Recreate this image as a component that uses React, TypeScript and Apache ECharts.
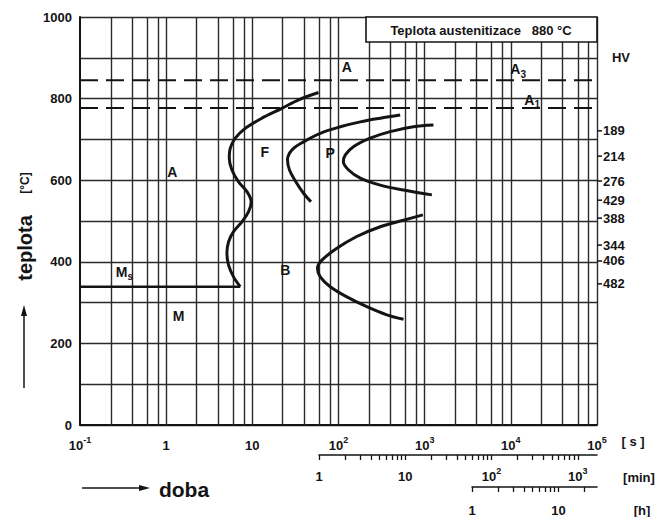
import React, { useEffect, useRef } from 'react';
import * as echarts from 'echarts';

// ---------- data ----------
const xDecades = [0.1, 1, 10, 100, 1000, 10000, 100000];
const minorGridMultipliers = [2.25, 4, 6, 8];
const yLabelValues = [0, 200, 400, 600, 800, 1000];

const msTemp = 339;
const msEndTime = 7.24;

const ferriteStart = [
  [58.6, 815], [34.4, 797], [22.0, 776], [12.9, 752], [8.27, 727], [6.34, 703],
  [5.54, 678], [5.4, 654], [5.8, 625], [6.92, 596], [8.66, 572], [9.71, 547],
  [9.04, 523], [7.57, 498], [6.05, 474], [5.3, 449], [5.07, 421], [5.3, 392],
  [6.05, 363], [7.24, 339],
];
const pearliteStart = [
  [520, 760], [305, 752], [179, 743], [105, 731], [61.4, 715], [39.3, 694],
  [28.8, 674], [25.6, 650], [27.0, 625], [32.9, 592], [39.3, 568], [47.9, 547],
];
const pearliteEnd = [
  [1265, 735], [741, 731], [398, 719], [233, 703], [149, 682], [120, 662],
  [114, 645], [131, 625], [179, 605], [305, 588], [568, 576], [1213, 564],
];
const bainite = [
  [953, 515], [568, 502], [305, 486], [163, 462], [95.7, 433], [64.2, 404],
  [57.0, 384], [61.4, 363], [80.2, 339], [125, 314], [213, 290], [364, 270], [568, 259],
];
const a3Temp = 845;
const a1Temp = 777;

const hvValues = ['189', '214', '276', '429', '388', '344', '406', '482'];
const hvTemps = [721, 659, 598, 551, 507, 441, 402, 346];

const labelTexts = ['A', 'A', 'F', 'P', 'B', 'M', 'M{sub|s}', 'A{sub|3}', 'A{sub|1}'];
const labelTimes = [1.18, 125, 13.9, 80, 24.1, 1.39, 0.327, 12160, 17660];
const labelTemps = [620, 877, 670, 667, 380, 267, 376, 872, 797];

const minuteLabels = [1, 10, 100, 1000];
const minuteTickMultipliers = [1, 2, 3, 4, 5, 6, 7, 8, 9];
const minuteTickDecades = [1, 10, 100];
const hourLabels = [1, 10];
const hourTickValues = [1, 2, 3, 4, 5, 6, 7, 8, 9, 10, 20];

// ---------- styling ----------
const INK = '#141414';
const GRID = '#2a2a2a';
const FONT = 'Liberation Sans';

const powRich = {
  b: { fontSize: 13, fontWeight: 'bold', fontFamily: FONT, color: INK, lineHeight: 20 },
  sup: { fontSize: 9, fontWeight: 'bold', fontFamily: FONT, color: INK, lineHeight: 10, verticalAlign: 'top' },
};
const powFormatter = (v: number) => {
  const e = Math.round(Math.log10(v));
  if (e === 0) return '{b|1}';
  if (e === 1) return '{b|10}';
  return `{b|10}{sup|${e}}`;
};

export default function App() {
  const ref = useRef<HTMLDivElement>(null);
  useEffect(() => {
    const chart = echarts.init(ref.current!, null, { renderer: 'svg' });

    const vLines: number[] = [];
    xDecades.forEach((d) => {
      if (d > xDecades[0]) vLines.push(d);
      if (d < xDecades[xDecades.length - 1]) minorGridMultipliers.forEach((m) => vLines.push(d * m));
    });
    const minuteTicks: number[] = [];
    minuteTickDecades.forEach((d) => minuteTickMultipliers.forEach((m) => minuteTicks.push(d * m)));
    minuteTicks.push(1000);

    const xMin = xDecades[0];
    const xMax = xDecades[xDecades.length - 1];

    const curve = (data: number[][]) => ({
      type: 'line',
      data,
      symbol: 'none',
      smooth: 0.35,
      lineStyle: { color: INK, width: 3 },
      z: 6,
      silent: true,
    });
    const dashed = (t: number) => ({
      type: 'line',
      data: [[xMin, t], [xMax, t]],
      symbol: 'none',
      lineStyle: { color: INK, width: 2.2, type: [18, 8] },
      z: 5,
      silent: true,
    });

    const option: any = {
      animation: false,
      backgroundColor: '#ffffff',
      grid: [
        { left: 80, right: 60, top: 17, bottom: 92 },
        { left: 319, right: 60, top: 454, height: 1 },
        { left: 472, right: 60, top: 486, height: 1 },
      ],
      xAxis: [
        {
          gridIndex: 0,
          type: 'log',
          logBase: 10,
          min: xMin,
          max: xMax,
          axisLine: { show: true, lineStyle: { color: INK, width: 2 } },
          axisTick: { show: false },
          splitLine: { show: false },
          axisLabel: {
            customValues: xDecades,
            formatter: powFormatter,
            rich: powRich,
            margin: 10,
          },
        },
        {
          gridIndex: 1,
          type: 'log',
          logBase: 10,
          min: 1,
          max: xMax / 60,
          axisLine: { show: true, lineStyle: { color: INK, width: 1.5 } },
          axisTick: { show: true, length: 5, customValues: minuteTicks, lineStyle: { color: INK, width: 1.3 } },
          splitLine: { show: false },
          axisLabel: { customValues: minuteLabels, formatter: powFormatter, rich: powRich, margin: 11 },
        },
        {
          gridIndex: 2,
          type: 'log',
          logBase: 10,
          min: 1,
          max: xMax / 3600,
          axisLine: { show: true, lineStyle: { color: INK, width: 1.5 } },
          axisTick: { show: true, length: 5, customValues: hourTickValues, lineStyle: { color: INK, width: 1.3 } },
          splitLine: { show: false },
          axisLabel: { customValues: hourLabels, formatter: powFormatter, rich: powRich, margin: 13 },
        },
      ],
      yAxis: [
        {
          gridIndex: 0,
          type: 'value',
          min: 0,
          max: 1000,
          interval: 100,
          axisLine: { show: true, lineStyle: { color: INK, width: 2 } },
          axisTick: { show: false },
          splitLine: { show: true, lineStyle: { color: GRID, width: 1.4 } },
          axisLabel: {
            margin: 8,
            color: INK,
            fontSize: 13,
            fontWeight: 'bold',
            fontFamily: FONT,
            formatter: (v: number) => (yLabelValues.includes(v) ? String(v) : ''),
          },
        },
        { gridIndex: 1, type: 'value', min: 0, max: 1, show: false },
        { gridIndex: 2, type: 'value', min: 0, max: 1, show: false },
      ],
      series: [
        {
          type: 'line',
          data: [],
          symbol: 'none',
          silent: true,
          z: 1,
          markLine: {
            silent: true,
            symbol: ['none', 'none'],
            label: { show: false },
            lineStyle: { color: GRID, width: 1.4, type: 'solid', opacity: 1 },
            data: vLines.map((v) => ({ xAxis: v })),
          },
        },
        dashed(a3Temp),
        dashed(a1Temp),
        {
          type: 'line',
          data: [[xMin, msTemp], [msEndTime, msTemp]],
          symbol: 'none',
          lineStyle: { color: INK, width: 2.6 },
          z: 6,
          silent: true,
        },
        curve(ferriteStart),
        curve(pearliteStart),
        curve(pearliteEnd),
        curve(bainite),
        {
          type: 'scatter',
          symbolSize: 0,
          silent: true,
          z: 7,
          itemStyle: { opacity: 1, color: INK },
          data: labelTexts.map((t, i) => ({ name: t, value: [labelTimes[i], labelTemps[i]] })),
          label: {
            show: true,
            position: 'inside',
            formatter: (p: any) => p.name,
            color: INK,
            opacity: 1,
            fontSize: 14,
            fontWeight: 'bold',
            fontFamily: FONT,
            lineHeight: 20,
            rich: {
              sub: { fontSize: 10, fontWeight: 'bold', fontFamily: FONT, color: INK, lineHeight: 10, verticalAlign: 'bottom' },
            },
          },
        },
        {
          type: 'scatter',
          symbol: 'rect',
          symbolSize: [5, 1.5],
          symbolOffset: [2.5, 0],
          itemStyle: { color: INK, opacity: 1 },
          clip: false,
          silent: true,
          z: 7,
          data: hvTemps.map((t, i) => ({ name: hvValues[i], value: [xMax, t] })),
          label: {
            show: true,
            position: 'right',
            distance: 1,
            formatter: (p: any) => p.name,
            color: INK,
            opacity: 1,
            fontSize: 13,
            fontWeight: 'bold',
            fontFamily: FONT,
          },
        },
      ],
      graphic: [
        {
          type: 'rect',
          shape: { x: 366, y: 17, width: 231, height: 25 },
          style: { fill: '#ffffff', stroke: INK, lineWidth: 1.6 },
          z: 20,
        },
        {
          type: 'text',
          x: 481,
          y: 30,
          z: 21,
          style: {
            text: 'Teplota austenitizace   880 °C',
            fill: INK,
            fontSize: 13,
            fontWeight: 'bold',
            fontFamily: FONT,
            align: 'center',
            verticalAlign: 'middle',
          },
        },
        {
          type: 'text', x: 621, y: 57, z: 21,
          style: { text: 'HV', fill: INK, fontSize: 13, fontWeight: 'bold', fontFamily: FONT, align: 'center', verticalAlign: 'middle' },
        },
        {
          type: 'text', x: 633, y: 441, z: 21,
          style: { text: '[ s ]', fill: INK, fontSize: 13, fontWeight: 'bold', fontFamily: FONT, align: 'center', verticalAlign: 'middle' },
        },
        {
          type: 'text', x: 639, y: 477, z: 21,
          style: { text: '[min]', fill: INK, fontSize: 13, fontWeight: 'bold', fontFamily: FONT, align: 'center', verticalAlign: 'middle' },
        },
        {
          type: 'text', x: 642, y: 510, z: 21,
          style: { text: '[h]', fill: INK, fontSize: 13, fontWeight: 'bold', fontFamily: FONT, align: 'center', verticalAlign: 'middle' },
        },
        {
          type: 'text', x: 184, y: 489, z: 21,
          style: { text: 'doba', fill: INK, fontSize: 21, fontWeight: 'bold', fontFamily: FONT, align: 'center', verticalAlign: 'middle' },
        },
        {
          type: 'line', z: 21,
          shape: { x1: 82, y1: 488, x2: 142, y2: 488 },
          style: { stroke: INK, lineWidth: 1.5 },
        },
        {
          type: 'polygon', z: 21,
          shape: { points: [[150, 488], [139, 485], [139, 491]] },
          style: { fill: INK },
        },
        {
          type: 'text', x: 25, y: 248, rotation: Math.PI / 2, z: 21,
          style: { text: 'teplota', fill: INK, fontSize: 20, fontWeight: 'bold', fontFamily: FONT, align: 'center', verticalAlign: 'middle' },
        },
        {
          type: 'text', x: 25, y: 183, rotation: Math.PI / 2, z: 21,
          style: { text: '[°C]', fill: INK, fontSize: 12, fontWeight: 'bold', fontFamily: FONT, align: 'center', verticalAlign: 'middle' },
        },
        {
          type: 'line', z: 21,
          shape: { x1: 24, y1: 388, x2: 24, y2: 314 },
          style: { stroke: INK, lineWidth: 1.5 },
        },
        {
          type: 'polygon', z: 21,
          shape: { points: [[24, 305], [21, 316], [27, 316]] },
          style: { fill: INK },
        },
      ],
    };

    chart.setOption(option);
    return () => chart.dispose();
  }, []);

  return (
    <div
      ref={ref}
      style={{ position: 'fixed', left: 0, top: 0, width: 657, height: 517, background: '#fff' }}
    />
  );
}
